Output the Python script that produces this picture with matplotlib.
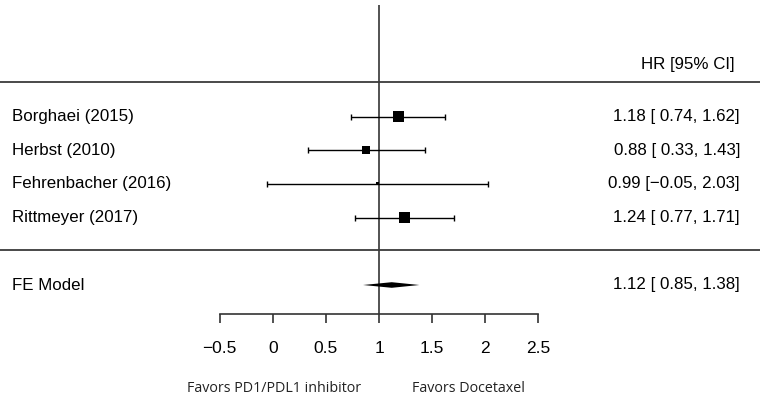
#!/usr/bin/env python3
"""Forest plot: hazard ratios of PD1/PDL1 inhibitors vs docetaxel."""

import matplotlib
matplotlib.use("Agg")
import matplotlib.pyplot as plt

# --- data -----------------------------------------------------------------
studies = ["Borghaei (2015)", "Herbst (2010)", "Fehrenbacher (2016)", "Rittmeyer (2017)"]
hr = [1.18, 0.88, 0.99, 1.24]
ci_low = [0.74, 0.33, -0.05, 0.77]
ci_high = [1.62, 1.43, 2.03, 1.71]
square_px = [11, 8, 3, 11]          # box size (study weight), in pixels

fe_label = "FE Model"
fe_hr = 1.12
fe_low = 0.85
fe_high = 1.38

xticks = [-0.5, 0, 0.5, 1, 1.5, 2, 2.5]
xtick_labels = ["\u22120.5", "0", "0.5", "1", "1.5", "2", "2.5"]


def fmt_ci(est, lo, hi):
    return f"{est:.2f} [{lo:5.2f}, {hi:.2f}]".replace("-", "\u2212")


# --- layout ---------------------------------------------------------------
W, H, DPI = 760, 405, 100
x0_px, unit_px = 272.7, 106.3       # pixel of HR=0 and pixels per HR unit
row_px = 33.67                      # pixels per row
fe_y_px = 285.0                     # pixel row of FE model (row 0)

font = "Liberation Sans"
fs = 12.2
ink = "black"
rule = "#3a3a3a"

fig = plt.figure(figsize=(W / DPI, H / DPI), dpi=DPI)
ax = fig.add_axes([0, 0, 1, 1])
ax.set_xlim(-x0_px / unit_px, (W - x0_px) / unit_px)
ax.set_ylim(-(H - fe_y_px) / row_px, fe_y_px / row_px)

n = len(studies)
rows = [n + 1 - i for i in range(n)]   # 5, 4, 3, 2
header_y = n + 2.56
axis_y = -0.86

# rules
ax.axhline(n + 2.03, color=rule, lw=1.3)
ax.axhline(1.04, color=rule, lw=1.3)
ax.vlines(1, axis_y, fe_y_px / row_px - 0.15, color="#444444", lw=1.3, zorder=1)

# study CIs and boxes
ax.errorbar(hr, rows, xerr=[[h - l for h, l in zip(hr, ci_low)],
                            [u - h for h, u in zip(hr, ci_high)]],
            fmt="none", ecolor=ink, elinewidth=1.0, capsize=2.3, capthick=1.0, zorder=2)
ax.scatter(hr, rows, marker="s", s=[(p * 0.72) ** 2 for p in square_px],
           color=ink, linewidths=0, zorder=3)

# summary diamond
dh = 2.8 / row_px
ax.fill([fe_low, fe_hr, fe_high, fe_hr], [0, dh, 0, -dh], color=ink, lw=0, zorder=3)

# text columns
ty = ax.get_yaxis_transform()
for name, y, e, lo, hi in zip(studies, rows, hr, ci_low, ci_high):
    ax.text(12 / W, y, name, transform=ty, ha="left", va="center", fontsize=fs, family=font)
    ax.text(740 / W, y, fmt_ci(e, lo, hi), transform=ty, ha="right", va="center",
            fontsize=fs, family=font)
ax.text(12 / W, 0, fe_label, transform=ty, ha="left", va="center", fontsize=fs, family=font)
ax.text(740 / W, 0, fmt_ci(fe_hr, fe_low, fe_high), transform=ty, ha="right", va="center",
        fontsize=fs, family=font)
ax.text(735 / W, header_y, "HR [95% CI]", transform=ty, ha="right", va="center",
        fontsize=fs, family=font)

# x axis
for side in ["top", "left", "right"]:
    ax.spines[side].set_visible(False)
ax.spines["bottom"].set_position(("data", axis_y))
ax.spines["bottom"].set_bounds(xticks[0], xticks[-1])
ax.spines["bottom"].set_linewidth(1.2)
ax.spines["bottom"].set_color("#333333")
ax.set_xticks(xticks)
ax.set_xticklabels(xtick_labels, fontsize=12.5, family=font)
ax.tick_params(axis="x", direction="out", length=6.5, width=1.2, color="#333333", pad=13)
ax.set_yticks([])

favor_y = -(389 - fe_y_px) / row_px
ax.text(274.5 / W, favor_y, "Favors PD1/PDL1 inhibitor", transform=ty, ha="center",
        va="center", fontsize=10.3, family="Open Sans", color="#222222")
ax.text(468 / W, favor_y, "Favors Docetaxel", transform=ty, ha="center",
        va="center", fontsize=10.3, family="Open Sans", color="#222222")

fig.savefig("out.png", dpi=DPI, facecolor="white")
